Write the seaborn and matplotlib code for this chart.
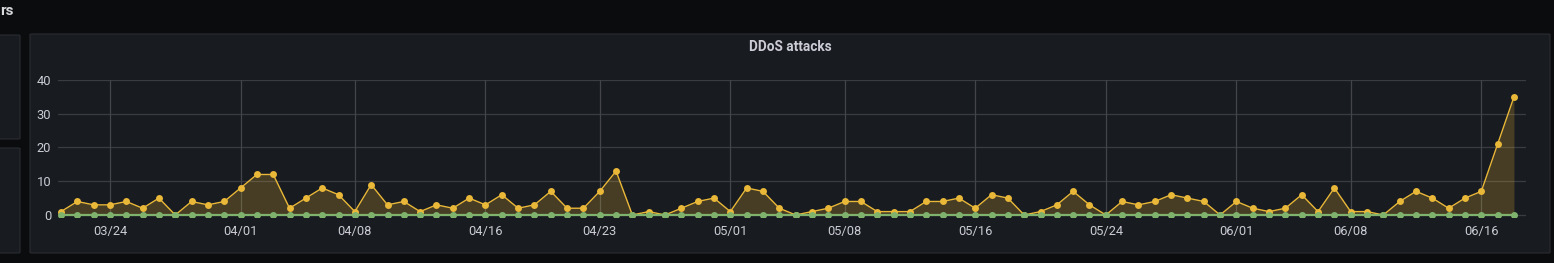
import matplotlib
matplotlib.use("Agg")
import matplotlib.pyplot as plt
import matplotlib.dates as mdates
from matplotlib.patches import FancyBboxPatch
import seaborn as sns
import pandas as pd

# ---- data ----
start_date = "2024-03-21"
attacks = [1, 4, 3, 3, 4, 2, 5, 0, 4, 3, 4, 8, 12, 12, 2, 5, 8, 6, 1, 9,
           3, 4, 1, 3, 2, 5, 3, 6, 2, 3, 7, 2, 2, 7, 13, 0, 1, 0, 2, 4,
           5, 1, 8, 7, 2, 0, 1, 2, 4, 4, 1, 1, 1, 4, 4, 5, 2, 6, 5, 0,
           1, 3, 7, 3, 0, 4, 3, 4, 6, 5, 4, 0, 4, 2, 1, 2, 6, 1, 8, 1,
           1, 0, 4, 7, 5, 2, 5, 7, 21, 35]
mitigated = [0] * len(attacks)
tick_dates = ["2024-03-24", "2024-04-01", "2024-04-08", "2024-04-16",
              "2024-04-23", "2024-05-01", "2024-05-08", "2024-05-16",
              "2024-05-24", "2024-06-01", "2024-06-08", "2024-06-16"]
y_ticks = [0, 10, 20, 30, 40]
title = "DDoS attacks"
row_title = "rs"

dates = pd.date_range(start_date, periods=len(attacks), freq="D")
df = pd.DataFrame({"date": dates, "attacks": attacks, "mitigated": mitigated})

W, H = 1554, 263
sns.set_theme(style="dark")
plt.rcParams["font.family"] = ["Roboto", "DejaVu Sans"]

outer_bg = "#0b0c0e"
panel_bg = "#181b1f"
border = "#2a2c31"
grid_c = "#3a3c42"
vgrid_c = "#43454b"
text_c = "#cbccd5"
yellow = "#EAB839"
green = "#7EB26D"

fig = plt.figure(figsize=(W / 100, H / 100), dpi=100)
fig.patch.set_facecolor(outer_bg)

def px_box(x0, y0, x1, y1):
    return (x0 / W, 1 - y1 / H, (x1 - x0) / W, (y1 - y0) / H)

for (x0, y0, x1, y1) in [(30, 34, 1550, 253), (-10, 35, 20, 139), (-10, 148, 20, 253)]:
    bx, by, bw, bh = px_box(x0, y0, x1, y1)
    fig.patches.append(FancyBboxPatch((bx, by), bw, bh,
                                      boxstyle="round,pad=0,rounding_size=0.002",
                                      transform=fig.transFigure, facecolor=panel_bg,
                                      edgecolor=border, linewidth=0.8, zorder=-5))

fig.text(0.5 / W, 1 - 11 / H, row_title, color="#d8d9dc", fontsize=11,
         fontweight="bold", ha="left", va="center")
fig.text(790 / W, 1 - 47.5 / H, title, color=text_c, fontsize=9.8,
         fontweight="bold", ha="center", va="center")

ax = fig.add_axes(px_box(58, 80, 1526, 217))
ax.set_zorder(2)
ax.patch.set_alpha(0)

ax.fill_between(df["date"], df["attacks"], 0, color=yellow, alpha=0.22,
                linewidth=0, zorder=1)
sns.lineplot(data=df, x="date", y="attacks", ax=ax, color=yellow, linewidth=1,
             marker="o", markersize=5, markeredgewidth=0, zorder=3)
sns.lineplot(data=df, x="date", y="mitigated", ax=ax, color=green, linewidth=1.6,
             marker="o", markersize=5, markeredgewidth=0, zorder=4)

x0 = dates[0] - pd.Timedelta(hours=4.4)
x1 = dates[-1] + pd.Timedelta(hours=17.7)
ax.set_xlim(x0, x1)
ax.set_ylim(-0.6, 40)

ax.set_yticks(y_ticks)
ax.set_xticks(pd.to_datetime(tick_dates))
ax.xaxis.set_major_formatter(mdates.DateFormatter("%m/%d"))

for y in y_ticks:
    ax.axhline(y, color=grid_c, linewidth=0.9, zorder=0)
for d in pd.to_datetime(tick_dates):
    ax.axvline(d, ymin=0.015, ymax=1, color=vgrid_c, linewidth=0.9, zorder=0)

ax.grid(False)
for s in ax.spines.values():
    s.set_visible(False)
ax.tick_params(axis="y", colors=text_c, labelsize=9.3, length=3, width=0.8,
               pad=2, color="#55575d")
ax.tick_params(axis="x", colors=text_c, labelsize=9.3, length=0, pad=6)
ax.set_xlabel("")
ax.set_ylabel("")
if ax.get_legend():
    ax.get_legend().remove()

fig.savefig("out.png", dpi=100, facecolor=outer_bg)
